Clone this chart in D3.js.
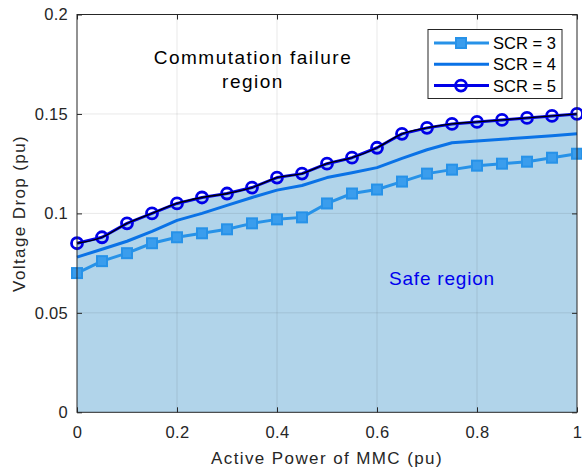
<!DOCTYPE html>
<html>
<head>
<meta charset="utf-8">
<script src="https://cdn.jsdelivr.net/npm/d3@7"></script>
<style>
  body { margin: 0; background: #fff; }
  svg { font-family: "Liberation Sans", Arial, sans-serif; }
</style>
</head>
<body>
<svg id="chart" width="582" height="467"></svg>
<script>
// active power steps (pu)
const power = [0, 0.05, 0.1, 0.15, 0.2, 0.25, 0.3, 0.35, 0.4, 0.45, 0.5,
  0.55, 0.6, 0.65, 0.7, 0.75, 0.8, 0.85, 0.9, 0.95, 1];
const scr3 = [0.070, 0.076, 0.080, 0.085, 0.088, 0.090, 0.092, 0.095, 0.097, 0.098, 0.105,
  0.110, 0.112, 0.116, 0.120, 0.122, 0.124, 0.125, 0.126, 0.128, 0.130];
const scr4 = [0.078, 0.082, 0.086, 0.091, 0.0965, 0.100, 0.104, 0.108, 0.1117, 0.114, 0.118,
  0.1204, 0.123, 0.1277, 0.132, 0.1355, 0.1364, 0.1373, 0.1382, 0.1391, 0.140];
const scr5 = [0.085, 0.088, 0.095, 0.100, 0.105, 0.108, 0.110, 0.113, 0.118, 0.120, 0.125,
  0.128, 0.133, 0.140, 0.143, 0.145, 0.146, 0.147, 0.148, 0.149, 0.150];
const xTicks = [0, 0.2, 0.4, 0.6, 0.8, 1];
const yTicks = [0, 0.05, 0.1, 0.15, 0.2];
const legendLabels = ["SCR = 3", "SCR = 4", "SCR = 5"];

const svg = d3.select("#chart");
const m = { left: 77, right: 577, top: 14.5, bottom: 412.3 };

const x = d3.scaleLinear().domain([0, 1]).range([m.left, m.right]);
const y = d3.scaleLinear().domain([0, 0.2]).range([m.bottom, m.top]);

const series = [
  { name: legendLabels[0], values: scr3, color: "#2792e8", marker: "square" },
  { name: legendLabels[1], values: scr4, color: "#0a72e6", marker: null },
  { name: legendLabels[2], values: scr5, color: "#0000e8", marker: "circle" },
];

// safe region fill
const area = d3.area()
  .x((d, i) => x(power[i]))
  .y0(y(0))
  .y1((d) => y(d))
  .curve(d3.curveMonotoneX);
svg.append("path")
  .attr("d", area(scr5))
  .attr("fill", "#b1d4ea");

// grid
const grid = svg.append("g").attr("stroke", "rgba(0,0,0,0.09)").attr("stroke-width", 1);
grid.selectAll(".gx").data(xTicks.slice(1, -1)).join("line")
  .attr("x1", (d) => x(d)).attr("x2", (d) => x(d))
  .attr("y1", m.top).attr("y2", m.bottom);
grid.selectAll(".gy").data(yTicks.slice(1, -1)).join("line")
  .attr("x1", m.left).attr("x2", m.right)
  .attr("y1", (d) => y(d)).attr("y2", (d) => y(d));

// axes with inner ticks
const axisColor = "#262626";
const fmt = (d) => String(d);
svg.append("g").attr("transform", `translate(0,${m.bottom})`)
  .call(d3.axisBottom(x).tickValues(xTicks).tickFormat(fmt).tickSizeInner(-5).tickSizeOuter(0).tickPadding(14))
  .call((g) => g.select(".domain").remove());
svg.append("g").attr("transform", `translate(${m.left},0)`)
  .call(d3.axisLeft(y).tickValues(yTicks).tickFormat(fmt).tickSizeInner(-5).tickSizeOuter(0).tickPadding(9))
  .call((g) => g.select(".domain").remove());
svg.append("g").attr("transform", `translate(0,${m.top})`)
  .call(d3.axisTop(x).tickValues(xTicks).tickFormat("").tickSizeInner(-5).tickSizeOuter(0))
  .call((g) => g.select(".domain").remove());
svg.append("g").attr("transform", `translate(${m.right},0)`)
  .call(d3.axisRight(y).tickValues(yTicks).tickFormat("").tickSizeInner(-5).tickSizeOuter(0))
  .call((g) => g.select(".domain").remove());
svg.selectAll(".tick line").attr("stroke", axisColor);
svg.selectAll(".tick text").attr("fill", axisColor).attr("font-size", 16.5)
  .attr("letter-spacing", 0.3)
  .attr("font-family", "Liberation Sans, Arial, sans-serif");

// series lines and markers
const line = d3.line().x((d, i) => x(power[i])).y((d) => y(d));
function drawMarker(g, type, color) {
  if (type === "square") {
    g.append("rect").attr("x", -5).attr("y", -5).attr("width", 10).attr("height", 10)
      .attr("fill", "#3a9ded").attr("stroke", color).attr("stroke-width", 2);
  } else if (type === "circle") {
    g.append("circle").attr("r", 5.5).attr("fill", "none")
      .attr("stroke", color).attr("stroke-width", 2.8);
  }
}
series.forEach((s) => {
  svg.append("path").attr("d", line(s.values)).attr("fill", "none")
    .attr("stroke", s.color).attr("stroke-width", 3).attr("stroke-linejoin", "round");
  if (s.marker) {
    s.values.forEach((v, i) => {
      const g = svg.append("g").attr("transform", `translate(${x(power[i])},${y(v)})`);
      drawMarker(g, s.marker, s.color);
    });
  }
});

// area boundary
svg.append("path")
  .attr("d", d3.line().x((d, i) => x(power[i])).y((d) => y(d)).curve(d3.curveMonotoneX)(scr5))
  .attr("fill", "none").attr("stroke", "#000").attr("stroke-width", 1.3);

// frame
svg.append("rect").attr("x", m.left).attr("y", m.top)
  .attr("width", m.right - m.left).attr("height", m.bottom - m.top)
  .attr("fill", "none").attr("stroke", axisColor).attr("stroke-width", 1);

// axis labels
svg.append("text").attr("x", (m.left + m.right) / 2).attr("y", 464)
  .attr("text-anchor", "middle").attr("font-size", 17).attr("letter-spacing", 1.4)
  .attr("fill", axisColor)
  .text("Active Power of MMC (pu)");
svg.append("text")
  .attr("transform", `translate(25,${(m.top + m.bottom) / 2}) rotate(-90)`)
  .attr("text-anchor", "middle").attr("font-size", 17).attr("letter-spacing", 1.4)
  .attr("fill", axisColor)
  .text("Voltage Drop (pu)");

// annotations
svg.append("text").attr("x", 253).attr("y", 64).attr("text-anchor", "middle")
  .attr("font-size", 19).attr("letter-spacing", 1.5)
  .attr("fill", "#000").text("Commutation failure");
svg.append("text").attr("x", 253).attr("y", 88).attr("text-anchor", "middle")
  .attr("font-size", 19).attr("letter-spacing", 1.5)
  .attr("fill", "#000").text("region");
svg.append("text").attr("x", 442).attr("y", 285).attr("text-anchor", "middle")
  .attr("font-size", 19).attr("letter-spacing", 0.8)
  .attr("fill", "#0000ee").text("Safe region");

// legend
const lg = svg.append("g").attr("transform", "translate(428,29.5)");
lg.append("rect").attr("width", 134).attr("height", 69)
  .attr("fill", "#fff").attr("stroke", axisColor).attr("stroke-width", 1);
series.forEach((s, i) => {
  const row = lg.append("g").attr("transform", `translate(0,${13.5 + i * 21.3})`);
  row.append("line").attr("x1", 6).attr("x2", 61).attr("stroke", s.color).attr("stroke-width", 3);
  const mk = row.append("g").attr("transform", "translate(33,0)");
  drawMarker(mk, s.marker, s.color);
  row.append("text").attr("x", 65).attr("y", 6).attr("font-size", 16.5)
    .attr("fill", "#000").text(s.name);
});
</script>
</body>
</html>
